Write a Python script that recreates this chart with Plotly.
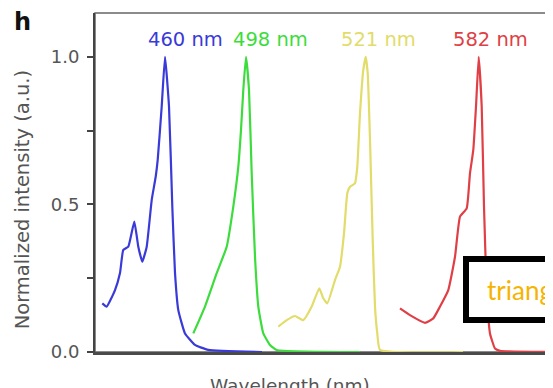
import plotly.graph_objects as go

# Spectra (x in relative panel units along the wavelength axis, y normalized intensity)
blue_x = [7.3, 11.7, 20, 25, 28.3, 33.3, 39.3, 43.3, 47.3, 51.7, 56.7, 60.7, 62.7, 66.7, 70,
          74, 77.3, 80, 83.3, 90, 100, 113.3, 167]
blue_y = [0.165, 0.154, 0.21, 0.268, 0.346, 0.357, 0.442, 0.357, 0.306, 0.357, 0.515, 0.594, 0.651,
          0.832, 1.0, 0.832, 0.493, 0.268, 0.142, 0.063, 0.024, 0.007, 0.0]

green_x = [98.3, 110, 121.7, 131.7, 138.3, 143.3, 146, 148.3, 151, 154, 156.7, 160, 163.3, 168.3,
           175, 181.7, 265]
green_y = [0.063, 0.154, 0.267, 0.357, 0.493, 0.628, 0.753, 0.888, 1.0, 0.888, 0.606, 0.323, 0.154,
           0.063, 0.024, 0.007, 0.0]

yellow_x = [183.3, 191.7, 200, 208.3, 216.7, 224.3, 228.3, 232.3, 240, 245, 249, 252.3, 255, 260,
            262.3, 265, 268.3, 270.7, 272.7, 275, 277.7, 280, 282.3, 285, 368]
yellow_y = [0.086, 0.108, 0.122, 0.108, 0.154, 0.216, 0.182, 0.165, 0.244, 0.289, 0.402, 0.538, 0.56,
            0.572, 0.628, 0.809, 0.956, 1.0, 0.945, 0.719, 0.38, 0.154, 0.063, 0.007, 0.0]

red_x = [305, 315, 330, 338.3, 345, 353.3, 360, 365, 371.7, 375, 378.3, 381, 383.7, 386.7, 389,
         391.7, 395, 400, 405, 455]
red_y = [0.148, 0.125, 0.099, 0.114, 0.154, 0.21, 0.323, 0.459, 0.487, 0.606, 0.685, 0.832, 1.0,
         0.832, 0.493, 0.21, 0.063, 0.012, 0.004, 0.0]

peak_labels = ["460 nm", "498 nm", "521 nm", "582 nm"]
label_x = [90, 175, 283, 395]
colors = ["#3a3ad8", "#3ddc3d", "#e2dc6a", "#df3f45"]

y_tickvals = [0, 0.25, 0.5, 0.75, 1.0]
y_ticktext = ["0.0", "", "0.5", "", "1.0"]

FONT = "DejaVu Sans, Arial"

fig = go.Figure()
for xs, ys, c in [(blue_x, blue_y, colors[0]), (green_x, green_y, colors[1]),
                  (yellow_x, yellow_y, colors[2]), (red_x, red_y, colors[3])]:
    fig.add_trace(go.Scatter(x=xs, y=ys, mode="lines",
                             line=dict(color=c, width=2.2, shape="spline", smoothing=0.4),
                             showlegend=False, hoverinfo="skip"))

for t, lx, c in zip(peak_labels, label_x, colors):
    fig.add_annotation(x=lx, y=1.058, xref="x", yref="y", text=t, showarrow=False,
                       font=dict(family=FONT, size=19.5, color=c),
                       xanchor="center", yanchor="middle")

fig.add_annotation(x=-0.182, y=1.02, xref="paper", yref="paper", text="<b>h</b>", showarrow=False,
                   font=dict(family=FONT, size=24, color="#111"),
                   xanchor="left", yanchor="top")
fig.add_annotation(x=-0.160, y=0.448, xref="paper", yref="paper", text="Normalized intensity (a.u.)",
                   textangle=-90, showarrow=False,
                   font=dict(family=FONT, size=19.5, color="#555"),
                   xanchor="center", yanchor="middle")
fig.add_annotation(x=0.4286, y=-0.062, xref="paper", yref="paper", text="Wavelength (nm)",
                   showarrow=False, font=dict(family=FONT, size=18.5, color="#555"),
                   xanchor="center", yanchor="top")

# overlay box
fig.add_shape(type="rect", xref="paper", yref="paper", x0=0.8154, x1=1.2, y0=0.0944, y1=0.2743,
              line=dict(color="black", width=6), fillcolor="white", layer="above")
fig.add_annotation(x=0.857, y=0.183, xref="paper", yref="paper", text="triangle", showarrow=False,
                   font=dict(family="Lato, sans-serif", size=26, color="#f5b400"),
                   xanchor="left", yanchor="middle")

fig.add_shape(type="rect", xref="paper", yref="paper", x0=0, y0=0, x1=1, y1=1,
              line=dict(color="#666", width=1.5), layer="below")

fig.update_layout(
    width=545, height=380,
    margin=dict(l=87, r=3, t=5, b=36),
    paper_bgcolor="white", plot_bgcolor="white",
    xaxis=dict(range=[0, 455], showticklabels=False, ticks="", showgrid=False, zeroline=False,
               showline=True, linecolor="#4a4a4a", linewidth=3),
    yaxis=dict(range=[0, 1.149], tickvals=y_tickvals, ticktext=y_ticktext, ticks="outside",
               ticklen=6, tickwidth=2, tickcolor="#444", showgrid=False, zeroline=False,
               showline=True, linecolor="#444", linewidth=2, ticklabelstandoff=4,
               tickfont=dict(family=FONT, size=18, color="#555")),
)

fig.write_html("out.html")
